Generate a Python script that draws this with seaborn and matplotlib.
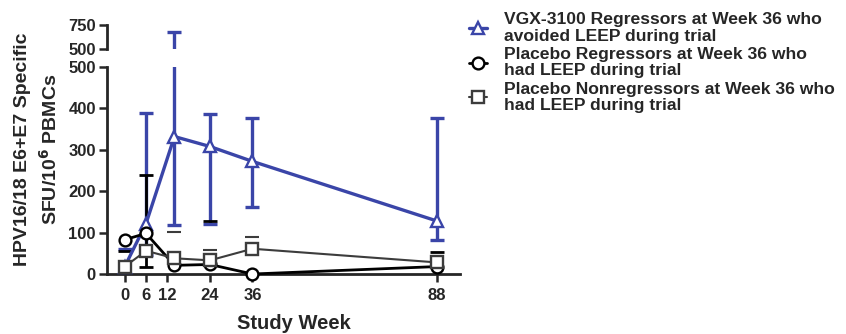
import numpy as np
import pandas as pd
import seaborn as sns
import matplotlib
matplotlib.use("Agg")
import matplotlib.pyplot as plt

sns.set_style("ticks")
plt.rcParams["font.family"] = ["Liberation Sans", "DejaVu Sans"]
plt.rcParams["font.weight"] = "bold"

# data (study weeks, mean SFU and error-bar ends)
weeks = [0, 6, 14, 24, 36, 88]
labels = ["VGX-3100 Regressors at Week 36 who\navoided LEEP during trial",
          "Placebo Regressors at Week 36 who\nhad LEEP during trial",
          "Placebo Nonregressors at Week 36 who\nhad LEEP during trial"]
vgx_mean = [18, 122, 332, 308, 272, 128]
vgx_hi = [60, 390, 680, 386, 378, 378]
vgx_lo = [np.nan, 45, 118, 120, 163, 82]
preg_mean = [83, 98, 21, 23, 0, 18]
preg_hi = [np.nan, 239, np.nan, 129, np.nan, 54]
preg_lo = [55, 18, np.nan, np.nan, np.nan, np.nan]
pnon_mean = [18, 56, 38, 33, 61, 28]
pnon_hi = [np.nan, np.nan, 102, 58, 90, np.nan]
pnon_lo = [np.nan, np.nan, np.nan, np.nan, np.nan, np.nan]

series = [
    (labels[0], vgx_mean, vgx_lo, vgx_hi, "#3a45a8", "^", 2.4),
    (labels[1], preg_mean, preg_lo, preg_hi, "#000000", "o", 2.0),
    (labels[2], pnon_mean, pnon_lo, pnon_hi, "#3c3c3c", "s", 1.5),
]

fig = plt.figure(figsize=(8.46, 3.34), dpi=100)
ax = fig.add_axes([0.1265, 0.1796, 0.4173, 0.6198])
ax_top = fig.add_axes([0.1265, 0.8533, 0.4173, 0.0719])

for name, m, lo, hi, col, mk, lw in series:
    m = np.array(m, float)
    yerr = [m - np.array(lo, float), np.array(hi, float) - m]
    df = pd.DataFrame({"week": weeks, "sfu": m})
    for a in (ax, ax_top):
        a.errorbar(weeks, m, yerr=yerr, fmt="none", ecolor=col,
                   elinewidth=lw, capsize=5, capthick=lw, zorder=2)
    sns.lineplot(data=df, x="week", y="sfu", ax=ax, color=col, lw=lw,
                 marker=mk, markersize=8.5, markerfacecolor="white",
                 markeredgecolor=col, markeredgewidth=1.7,
                 label=name, clip_on=False, zorder=3)

ax.set_xlim(-5, 94.5)
ax.set_ylim(0, 500)
ax.set_xticks([0, 6, 12, 24, 36, 88])
ax.set_yticks([0, 100, 200, 300, 400, 500])
ax.set_xlabel("Study Week", fontsize=14.5, fontweight="bold", va="center")
ax.xaxis.set_label_coords(0.53, -0.237)
ax.set_ylabel("")
ax_top.set_xlim(-5, 94.5)
ax_top.set_ylim(500, 750)
ax_top.set_yticks([500, 750])
ax_top.set_xticks([])

for a in (ax, ax_top):
    for s in ["top", "right"]:
        a.spines[s].set_visible(False)
    a.spines["left"].set_linewidth(2)
    a.tick_params(width=1.8, length=6, labelsize=12, pad=2)
    for t in a.get_yticklabels() + a.get_xticklabels():
        t.set_fontweight("bold")
ax.tick_params(axis="x", pad=4)
ax.spines["bottom"].set_linewidth(2)
ax_top.spines["bottom"].set_visible(False)

fig.text(0.044, 0.554, "HPV16/18 E6+E7 Specific\nSFU/10$^{\\mathbf{6}}$ PBMCs",
         rotation=90, ha="center", va="center", ma="center",
         fontsize=14, fontweight="bold", linespacing=1.45)

leg = ax.legend(loc="upper left", bbox_to_anchor=(0.536, 1.01),
                bbox_transform=fig.transFigure, frameon=False,
                handlelength=1.0, handletextpad=1.0, labelspacing=0.2,
                prop={"weight": "bold", "size": 12.6})
for t in leg.get_texts():
    t.set_linespacing(1.1)

fig.savefig("out.png", dpi=100)
